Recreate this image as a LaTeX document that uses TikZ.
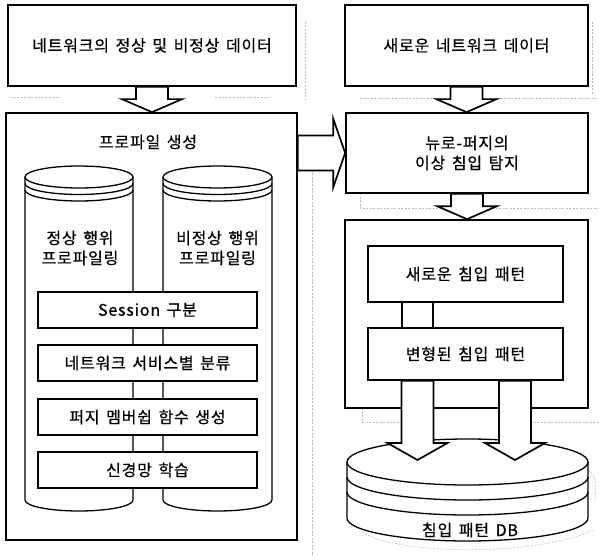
\documentclass[tikz,border=0pt]{standalone}
\usepackage{fontspec}
\setmainfont{Noto Sans CJK KR}[LetterSpace=5, WordSpace=1.5, FakeBold=0.6]
\usetikzlibrary{calc}
\newcommand\lbl{\fontsize{16}{20}\selectfont}
% drum: centre x, top y, bottom y, x radius, y radius, ring gap
\newcommand\drum[6]{%
\draw[drumline] (#1-#4,#2) -- (#1-#4,#3) arc[start angle=180, end angle=360, x radius=#4pt, y radius=#5pt] -- (#1+#4,#2);
\draw[drumline] (#1,#2) ellipse[x radius=#4pt, y radius=#5pt];
\draw[drumline, fill=none] (#1-#4,#2+#6) arc[start angle=180, end angle=360, x radius=#4pt, y radius=#5pt];
\draw[drumline, fill=none] (#1-#4,#2+2*#6) arc[start angle=180, end angle=360, x radius=#4pt, y radius=#5pt];}
% block arrows between nodes
\newcommand\blkdown[3][13]{%
\path[blkarrow] let \p1=#2, \p2=#3 in (\x1-16pt,\y1) -- (\x1-16pt,\y2+#1pt) -- (\x1-30pt,\y2+#1pt) -- (\x1,\y2) -- (\x1+30pt,\y2+#1pt) -- (\x1+16pt,\y2+#1pt) -- (\x1+16pt,\y1) -- cycle;}
\newcommand\blkright[2]{%
\path[blkarrow] let \p1=#1, \p2=#2 in (\x1,\y1+17.5pt) -- (\x2-12pt,\y1+17.5pt) -- (\x2-12pt,\y1+34.5pt) -- (\x2,\y1) -- (\x2-12pt,\y1-34.5pt) -- (\x2-12pt,\y1-17.5pt) -- (\x1,\y1-17.5pt) -- cycle;}

\begin{document}
\begin{tikzpicture}[x=1pt, y=-1pt,
  frame/.style={draw, line width=1.7pt, inner sep=0pt, font=\lbl},
  procbox/.style={frame, fill=white, minimum width=219pt, minimum height=36pt},
  drumline/.style={line width=1.3pt, fill=white},
  blkarrow/.style={draw, line width=1.7pt, fill=white, line join=miter},
  shadowline/.style={gray!55, line width=0.5pt, dash pattern=on 2pt off 1.5pt}]
\useasboundingbox (0,0) rectangle (599,556);
% faint shadows of the scan
\draw[shadowline] (312,170) -- (312,556);
\draw[shadowline] (305,22) -- (305,100) (592,22) -- (592,95);
\draw[shadowline] (10,97) -- (60,97) (215,97) -- (270,97) (360,98) -- (445,98) (490,98) -- (599,98);
\draw[shadowline] (360,193) -- (360,208) -- (448,208) (485,208) -- (599,208);
\draw[shadowline] (362,408) -- (362,422) -- (400,422) (530,422) -- (599,422);
\draw[shadowline] (362,532) .. controls (400,556) and (540,556) .. (593,530);
\draw[shadowline] (585,468) .. controls (596,476) .. (595,500);

\node[frame, minimum width=288pt, minimum height=81pt] (srcdata) at (152,45.5) {네트워크의 정상 및 비정상 데이터};
\node[frame, minimum width=243pt, minimum height=81pt] (newdata) at (466.5,45.5) {새로운 네트워크 데이터};

\node[frame, minimum width=291pt, minimum height=427pt] (profile) at (151.5,326.5) {};
\node[font=\lbl] (proftitle) at (148,142) {프로파일 생성};
\drum{79}{177}{500}{54}{11}{6.5}
\drum{217.5}{177}{500}{54.5}{11}{6.5}
\node[align=center, font=\lbl] (normal) at (80,248) {정상 행위\\프로파일링};
\node[align=center, font=\lbl] (abnormal) at (217.5,248) {비정상 행위\\프로파일링};
\node[procbox] (session) at (147.5,310) {Session 구분};
\node[procbox] (service) at (147.5,363) {네트워크 서비스별 분류};
\node[procbox] (fuzzy) at (147.5,417) {퍼지 멤버쉽 함수 생성};
\node[procbox] (neural) at (147.5,470) {신경망 학습};

\node[frame, align=center, minimum width=242pt, minimum height=80pt] (detect) at (467,153) {뉴로-퍼지의\\이상 침입 탐지};
\node[frame, minimum width=243pt, minimum height=188pt] (pattern) at (466.5,314) {};
\node[frame, minimum width=195pt, minimum height=56pt] (newpat) at (465.5,274) {새로운 침입 패턴};
\node[frame, minimum width=195pt, minimum height=52pt] (varpat) at (465.5,354) {변형된 침입 패턴};
\draw[line width=1.7pt] ([xshift=-63.5pt]newpat.south) -- ([xshift=-63.5pt]varpat.north)
  ([xshift=-32.5pt]newpat.south) -- ([xshift=-32.5pt]varpat.north);

\drum{467.5}{462}{518}{120.5}{23}{15}
\coordinate (dbtop) at (467.5,460);
\node[font=\lbl] (db) at (470,530) {침입 패턴 DB};

\blkdown{(srcdata.south)}{(profile.north)}
\blkdown{(newdata.south)}{(detect.north)}
\blkdown{(detect.south)}{(pattern.north)}
\blkright{(profile.east |- detect.west)}{(detect.west)}
\blkdown[17]{([xshift=-48pt]varpat.south)}{(dbtop)}
\blkdown[17]{([xshift=49.5pt]varpat.south)}{(dbtop)}
\end{tikzpicture}
\end{document}
